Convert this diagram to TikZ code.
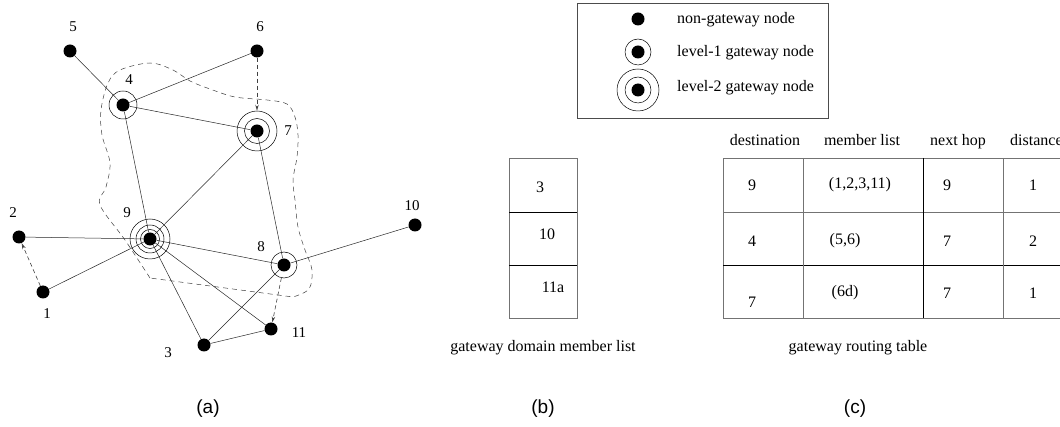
\documentclass[tikz,border=0pt]{standalone}
\usepackage{fontspec}
\setmainfont{Liberation Serif}
\newfontfamily\lsans{Liberation Sans}
\usetikzlibrary{arrows.meta}
\begin{document}
\begin{tikzpicture}[x=1pt,y=-1pt,
  dotnode/.style={circle,fill=black,inner sep=0pt,minimum size=13pt},
  ringnode/.style={circle,draw,line width=0.5pt,inner sep=0pt},
  edgeline/.style={line width=0.5pt,draw=black!85},
  darr/.style={line width=0.6pt,draw=black!75,dash pattern=on 4pt off 3pt,-{Stealth[length=6pt,width=3.5pt,open]}},
  lbl/.style={font=\fontsize{15}{17}\selectfont,inner sep=0pt},
  txt/.style={font=\fontsize{16}{19}\selectfont,inner sep=0pt},
  capt/.style={font=\lsans\fontsize{19}{22}\selectfont,inner sep=0pt},
  gridg/.style={line width=0.6pt,draw=black!55},
  gridk/.style={line width=0.8pt,draw=black}]
\useasboundingbox (0,0) rectangle (1060,427);
% ---------- (a) graph ----------
% domain boundary
\draw[line width=0.5pt,black!75,dash pattern=on 5pt off 4pt]
  plot[smooth,tension=0.55] coordinates {(150,278) (125,240) (100,205) (106,187) (110,163) (102,135) (101,110) (108,83) (120,70) (150,63) (173,70) (190,81) (210,89) (235,97) (267,100) (287,104) (295,117) (298,135) (297,157) (293,180) (295,200) (298,227) (305,250) (312,270) (309,289) (293,297)} -- cycle;
% rings
\node[ringnode,minimum size=28pt] (r4) at (123,105) {};
\node[ringnode,minimum size=25pt] (r7i) at (257,131) {};
\node[ringnode,minimum size=40pt] (r7o) at (257,131) {};
\node[ringnode,minimum size=19pt] (r9i) at (150,239) {};
\node[ringnode,minimum size=28pt] (r9m) at (150,239) {};
\node[ringnode,minimum size=40pt] (r9o) at (150,239) {};
\node[ringnode,minimum size=26pt] (r8) at (284,265) {};
% dots
\node[dotnode] (n1) at (43,292) {};
\node[dotnode] (n2) at (19,237) {};
\node[dotnode] (n3) at (204,345) {};
\node[dotnode] (n4) at (123,105) {};
\node[dotnode] (n5) at (70,51) {};
\node[dotnode] (n6) at (257,51) {};
\node[dotnode] (n7) at (257,131) {};
\node[dotnode] (n8) at (284,265) {};
\node[dotnode] (n9) at (150,239) {};
\node[dotnode] (n10) at (415,225) {};
\node[dotnode] (n11) at (271,329) {};
% edges
\draw[edgeline] (n5) -- (n4);
\draw[edgeline] (n6) -- (n4);
\draw[edgeline] (n4) -- (n7);
\draw[edgeline] (n4) -- (n9);
\draw[edgeline] (n7) -- (n9);
\draw[edgeline] (n7) -- (n8);
\draw[edgeline] (n9) -- (n2);
\draw[edgeline] (n9) -- (n1);
\draw[edgeline] (n9) -- (n8);
\draw[edgeline] (n9) -- (n3);
\draw[edgeline] (n9) -- (n11);
\draw[edgeline] (n8) -- (n10);
\draw[edgeline] (n8) -- (n3);
\draw[edgeline] (n3) -- (n11);
% dashed arrows
\draw[darr] (n6) -- (r7o);
\draw[darr] (n1) -- (n2);
\draw[darr] (r8) -- (n11);
% labels
\node[lbl] (l5) at (73,27) {5};
\node[lbl] (l6) at (260,27) {6};
\node[lbl] (l4) at (129,80) {4};
\node[lbl] (l7) at (288,131) {7};
\node[lbl] (l9) at (127,213) {9};
\node[lbl] (l2) at (13,213) {2};
\node[lbl] (l1) at (47,314) {1};
\node[lbl] (l8) at (261,247) {8};
\node[lbl] (l10) at (412,206) {10};
\node[lbl] (l11) at (299,333) {11};
\node[lbl] (l3) at (168,353) {3};
% ---------- legend ----------
\draw[line width=0.6pt,black!70] (577,3) rectangle (828,118);
\node[dotnode] (g1) at (638,19) {};
\node[dotnode] (g2) at (638,52) {};
\node[ringnode,minimum size=26pt] (g2r) at (638,52) {};
\node[dotnode] (g3) at (638,90) {};
\node[ringnode,minimum size=26pt] (g3r) at (638,90) {};
\node[ringnode,minimum size=42pt] (g3o) at (638,90) {};
\node[txt,anchor=west] (t1) at (677,20) {non-gateway node};
\node[txt,anchor=west] (t2) at (677,53) {level-1 gateway node};
\node[txt,anchor=west] (t3) at (677,88) {level-2 gateway node};
% ---------- (b) member list ----------
\draw[gridg] (509,158) rectangle (577,318);
\draw[gridk] (509,212) -- (577,212);
\draw[gridk] (509,265) -- (577,265);
\node[txt] (b1) at (540,187) {3};
\node[txt] (b2) at (547,234) {10};
\node[txt] (b3) at (553,287) {11a};
\node[txt] (bcap) at (543,348) {gateway domain member list};
% ---------- (c) routing table ----------
\draw[gridg] (723,158) rectangle (1075,318);
\draw[gridg] (723,212) -- (1075,212);
\draw[gridk] (723,265) -- (1075,265);
\draw[gridg] (803,158) -- (803,318);
\draw[gridk] (923,158) -- (923,318);
\draw[gridg] (1003,158) -- (1003,318);
\node[txt,anchor=base] (h1) at (765,146) {destination};
\node[txt,anchor=base] (h2) at (862,146) {member list};
\node[txt,anchor=base] (h3) at (958,146) {next hop};
\node[txt,anchor=base west] (h4) at (1010,146) {distance};
\node[txt] (c11) at (752,185) {9};
\node[txt] (c12) at (860,185) {(1,2,3,11)};
\node[txt] (c13) at (947,185) {9};
\node[txt] (c14) at (1033,185) {1};
\node[txt] (c21) at (752,241) {4};
\node[txt] (c22) at (845,241) {(5,6)};
\node[txt] (c23) at (947,241) {7};
\node[txt] (c24) at (1033,241) {2};
\node[txt] (c31) at (752,302) {7};
\node[txt] (c32) at (845,293) {(6d)};
\node[txt] (c33) at (947,293) {7};
\node[txt] (c34) at (1033,293) {1};
\node[txt] (ccap) at (858,348) {gateway routing table};
% ---------- captions ----------
\node[capt] (ca) at (208,409) {(a)};
\node[capt] (cb) at (543,409) {(b)};
\node[capt] (cc) at (855,409) {(c)};
\end{tikzpicture}
\end{document}
